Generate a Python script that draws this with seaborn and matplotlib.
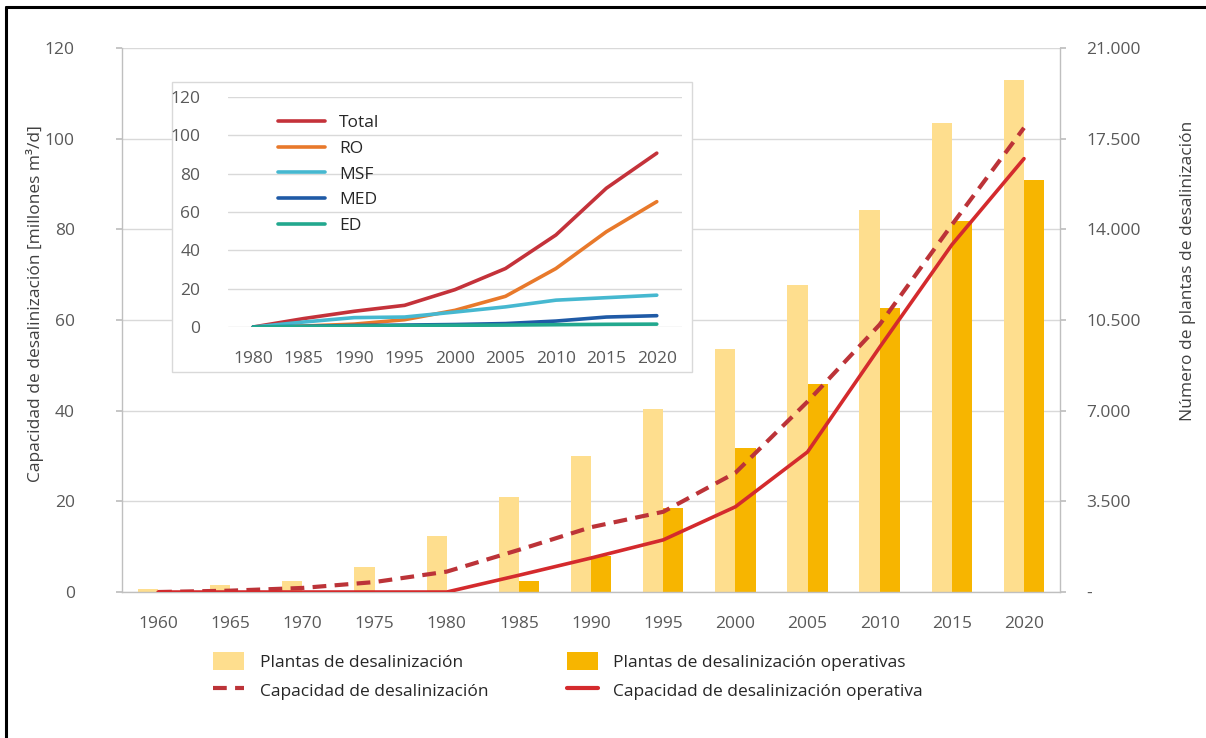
import numpy as np
import pandas as pd
import seaborn as sns
import matplotlib.pyplot as plt
from matplotlib.lines import Line2D
from matplotlib.patches import Patch, Rectangle
from matplotlib.ticker import FuncFormatter

# Main chart data.
years = [1960, 1965, 1970, 1975, 1980, 1985, 1990, 1995, 2000, 2005, 2010, 2015, 2020]
plantas = [120, 270, 420, 960, 2150, 3650, 5250, 7050, 9380, 11860, 14750, 18100, 19780]
plantas_operativas = [0, 0, 0, 0, 0, 420, 1400, 3240, 5570, 8040, 10970, 14330, 15920]
capacidad = [0, 0.3, 0.9, 2.2, 4.5, 9.3, 14.3, 17.7, 26.3, 42.0, 59.0, 81.0, 102.4]
capacidad_operativa = [0, 0, 0, 0, 0, 3.7, 7.5, 11.5, 18.8, 30.9, 54.0, 76.6, 95.6]

# Inset data, capacity by technology.
inset_years = [1980, 1985, 1990, 1995, 2000, 2005, 2010, 2015, 2020]
total = [0, 4.4, 8.2, 11.3, 19.5, 30.5, 48.0, 72.4, 90.7]
ro = [0, 0.5, 1.5, 3.8, 8.7, 16.0, 30.5, 49.7, 65.4]
msf = [0, 2.6, 4.9, 5.2, 7.8, 10.5, 14.0, 15.3, 16.6]
med = [0, 0.3, 0.8, 1.0, 1.3, 1.8, 3.1, 5.2, 5.9]
ed = [0, 0.3, 0.5, 0.7, 0.9, 1.0, 1.2, 1.4, 1.5]

LIGHT = "#FEDE8E"
DARK = "#F7B500"
RED = "#D42A2D"
RED_DASH = "#BC3338"
GRID = "#D9D9D9"
SPINE = "#BFBFBF"
TXT = "#595959"

sns.set_theme(style="white")
plt.rcParams['font.family'] = ['Open Sans', 'DejaVu Sans']

fig = plt.figure(figsize=(12.06, 7.38), dpi=100)

# Bars on the base axes (plants, right scale), lines on the twin (capacity, left scale).
ax_b = fig.add_axes([0.1012, 0.1978, 0.7778, 0.7371])
ax_l = ax_b.twinx()

n = len(years)
df_bars = pd.DataFrame({
    'year': [str(y) for y in years] * 2,
    'plantas': plantas + plantas_operativas,
    'serie': ['Plantas de desalinización'] * n + ['Plantas de desalinización operativas'] * n,
})
sns.barplot(data=df_bars, x='year', y='plantas', hue='serie',
            palette=[LIGHT, DARK], width=0.56, saturation=1, linewidth=0,
            legend=False, ax=ax_b, zorder=2)

pos = np.arange(n)
sns.lineplot(x=pos, y=capacidad, color=RED_DASH, linewidth=3, ax=ax_l)
ax_l.lines[-1].set_dashes([3.3, 2.0])
sns.lineplot(x=pos, y=capacidad_operativa, color=RED, linewidth=2.6, ax=ax_l)

# Axes scales
ax_b.set_xlim(-0.5, n - 0.5)
ax_b.set_ylim(0, 21000)
ax_l.set_ylim(0, 120)
ax_b.set_yticks(np.arange(0, 21001, 3500))
ax_l.set_yticks(np.arange(0, 121, 20))
ax_b.set_xticks(pos, [str(y) for y in years])

# Swap sides: plants to the right, capacity to the left.
ax_b.yaxis.tick_right()
ax_b.yaxis.set_label_position('right')
ax_l.yaxis.tick_left()
ax_l.yaxis.set_label_position('left')

ax_b.yaxis.set_major_formatter(
    FuncFormatter(lambda v, p: '-' if v == 0 else f"{int(v):,}".replace(',', '.')))

ax_b.grid(axis='y', color=GRID, linewidth=1, zorder=0)
ax_b.set_axisbelow(True)
for s in ['left', 'bottom', 'right']:
    ax_b.spines[s].set_color(SPINE)
    ax_b.spines[s].set_linewidth(1)
ax_b.spines['top'].set_visible(False)
for s in ax_l.spines.values():
    s.set_visible(False)

ax_b.tick_params(axis='x', length=0, pad=17, labelsize=12.5, labelcolor=TXT)
ax_b.tick_params(axis='y', right=True, length=4, color=SPINE, pad=15,
                 labelsize=12.5, labelcolor=TXT)
ax_l.tick_params(axis='y', left=True, length=4, color=SPINE, pad=30,
                 labelsize=12.5, labelcolor=TXT)

ax_b.set_xlabel('')
ax_b.set_ylabel('Número de plantas de desalinización', fontsize=12.5, color='#404040')
ax_l.set_ylabel('Capacidad de desalinización [millones m³/d]', fontsize=12.5, color='#404040')
ax_b.yaxis.set_label_coords(1.128, 0.59)
ax_l.yaxis.set_label_coords(-0.083, 0.53)

# Main legend below the plot.
handles = [
    Patch(facecolor=LIGHT, edgecolor='none'),
    Line2D([], [], color=RED_DASH, linewidth=3, dashes=[3.3, 2.0]),
    Patch(facecolor=DARK, edgecolor='none'),
    Line2D([], [], color=RED, linewidth=3),
]
labels = ['Plantas de desalinización', 'Capacidad de desalinización',
          'Plantas de desalinización operativas', 'Capacidad de desalinización operativa']
fig.legend(handles, labels, ncol=2, loc='upper left',
           bbox_to_anchor=(213 / 1206, 1 - 652 / 738), frameon=False,
           fontsize=12.5, labelcolor='#262626', handlelength=1.8, handleheight=1.25,
           handletextpad=0.9, labelspacing=0.55, columnspacing=4.5,
           borderpad=0, borderaxespad=0)

# Inset chart with its own white box.
box = Rectangle((172 / 1206, 1 - 372 / 738), 520 / 1206, 290 / 738,
                transform=fig.transFigure, facecolor='white', edgecolor=GRID,
                linewidth=1, zorder=4)
fig.add_artist(box)

ax_in = fig.add_axes([228 / 1206, 1 - 327 / 738, 454 / 1206, 230 / 738])
ax_in.set_zorder(5)
ax_in.patch.set_alpha(0)

m = len(inset_years)
df_in = pd.DataFrame({
    'pos': list(range(m)) * 5,
    'valor': total + ro + msf + med + ed,
    'tec': ['Total'] * m + ['RO'] * m + ['MSF'] * m + ['MED'] * m + ['ED'] * m,
})
sns.lineplot(data=df_in, x='pos', y='valor', hue='tec',
             palette=["#C4323A", "#E8792B", "#46B8D0", "#1F5AA6", "#22A88E"],
             linewidth=2.6, ax=ax_in)

ax_in.set_xlim(-0.5, m - 0.5)
ax_in.set_ylim(0, 120)
ax_in.set_yticks(np.arange(0, 121, 20))
ax_in.set_xticks(range(m), [str(y) for y in inset_years])
ax_in.grid(axis='y', color=GRID, linewidth=1)
ax_in.set_axisbelow(True)
for s in ax_in.spines.values():
    s.set_visible(False)
ax_in.tick_params(axis='both', length=0, labelsize=12.5, labelcolor=TXT)
ax_in.tick_params(axis='y', pad=20)
ax_in.tick_params(axis='x', pad=17)
ax_in.set_xlabel('')
ax_in.set_ylabel('')
ax_in.legend(loc='upper left', bbox_to_anchor=(50 / 454, 1 - 18 / 230),
             frameon=False, fontsize=12.5, labelcolor='#262626',
             handlelength=2.7, handletextpad=0.8, labelspacing=0.55,
             borderpad=0, borderaxespad=0)

# Frame edges of the original figure (left and top only).
fig.add_artist(Line2D([6 / 1206, 6 / 1206], [0, 1 - 7 / 738], color='black',
                      linewidth=2.2, transform=fig.transFigure))
fig.add_artist(Line2D([6 / 1206, 1], [1 - 7 / 738, 1 - 7 / 738], color='black',
                      linewidth=2.2, transform=fig.transFigure))

fig.savefig('out.png', dpi=100, facecolor='white')
